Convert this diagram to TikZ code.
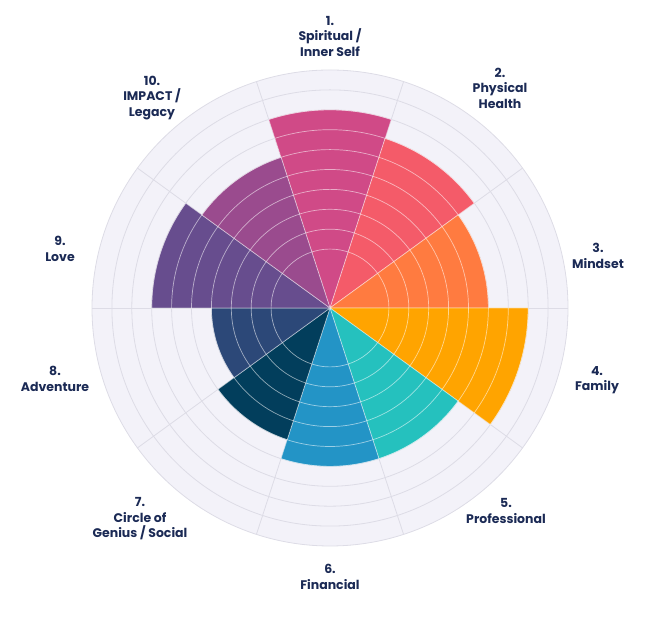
\documentclass[tikz,border=0pt]{standalone}
\usepackage{fontspec}
\setmainfont{Poppins}
\definecolor{bgc}{HTML}{F3F2F9}
\definecolor{gridc}{HTML}{DDDCE6}
\definecolor{lbl}{HTML}{1B2A55}
\definecolor{c1}{HTML}{D04A87}
\definecolor{c2}{HTML}{F45B69}
\definecolor{c3}{HTML}{FF7B40}
\definecolor{c4}{HTML}{FFA400}
\definecolor{c5}{HTML}{25C1BE}
\definecolor{c6}{HTML}{2394C6}
\definecolor{c7}{HTML}{023E5C}
\definecolor{c8}{HTML}{2C4878}
\definecolor{c9}{HTML}{674D8E}
\definecolor{c10}{HTML}{9A4B8E}
\tikzset{lab/.style={align=center,text=lbl,font=\fontsize{12.5}{15.5}\selectfont\bfseries,inner sep=0pt}}
\begin{document}
\begin{tikzpicture}[x=1pt,y=1pt]
\useasboundingbox (0,0) rectangle (656,617);
\begin{scope}[shift={(330,309)}]
\fill[bgc] (0,0) circle[radius=238];
\foreach \k in {1,...,10}{\draw[gridc,line width=0.8pt] (0,0) circle[radius={39+19.9*\k}];}
\foreach \a in {0,36,...,324}{\draw[gridc,line width=0.8pt] (0,0) -- (\a:238);}
\foreach \i/\v in {1/8,2/7,3/6,4/8,5/6,6/6,7/5,8/4,9/7,10/6}{
  \pgfmathsetmacro{\aa}{108-36*\i}
  \pgfmathsetmacro{\ab}{144-36*\i}
  \pgfmathsetmacro{\rr}{39+19.9*\v}
  \filldraw[fill=c\i,draw=white,draw opacity=0.5,line width=0.7pt] (0,0) -- (\aa:\rr) arc[start angle=\aa,end angle=\ab,radius=\rr] -- cycle;
  \begin{scope}
    \clip (0,0) -- (\aa:\rr) arc[start angle=\aa,end angle=\ab,radius=\rr] -- cycle;
    \foreach \k in {1,...,9}{\draw[white,opacity=0.55,line width=0.7pt] (0,0) circle[radius={39+19.9*\k}];}
  \end{scope}
}
\end{scope}
\node[lab] (l1) at (330,581) {1.\\Spiritual /\\Inner Self};
\node[lab] (l2) at (500,529) {2.\\Physical\\Health};
\node[lab] (l3) at (598,361) {3.\\Mindset};
\node[lab] (l4) at (597,237) {4.\\Family};
\node[lab] (l5) at (506,106) {5.\\Professional};
\node[lab] (l6) at (330,40) {6.\\Financial};
\node[lab] (l7) at (140,98) {7.\\Circle of\\Genius / Social};
\node[lab] (l8) at (55,238) {8.\\Adventure};
\node[lab] (l9) at (60,368) {9.\\Love};
\node[lab] (l10) at (152,519) {10.\\IMPACT /\\Legacy};
\end{tikzpicture}
\end{document}
